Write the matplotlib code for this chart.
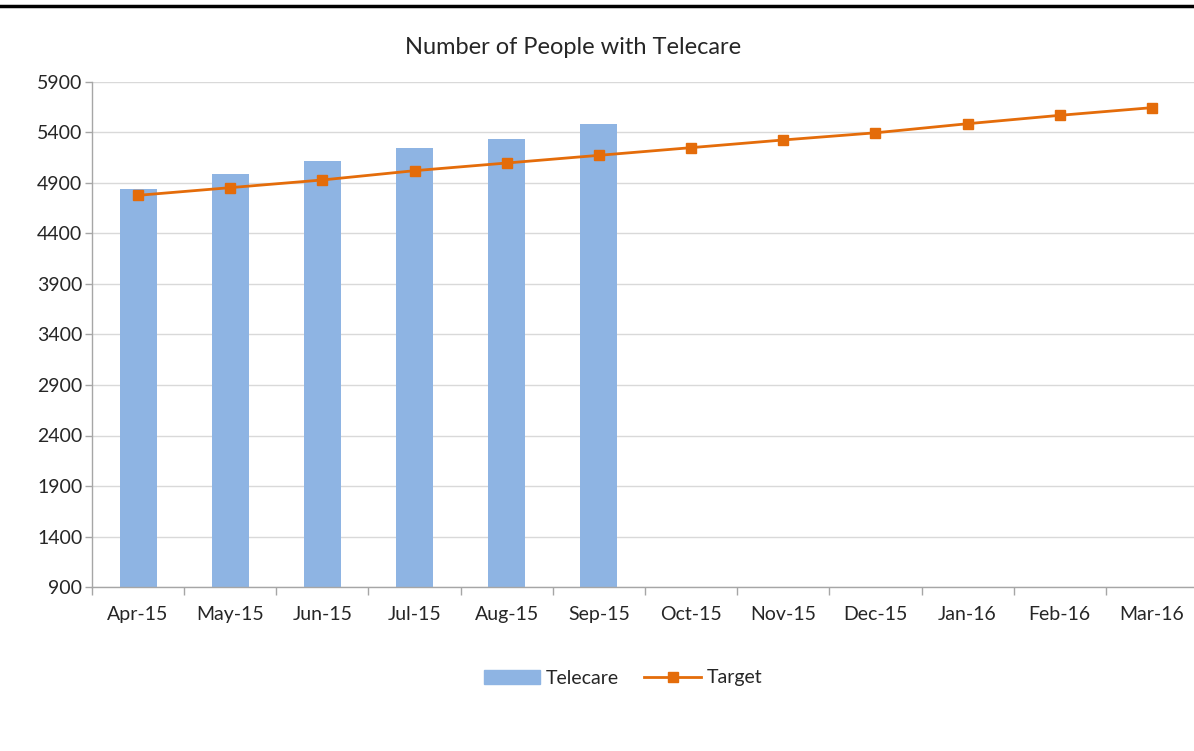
import matplotlib
matplotlib.use('Agg')
from matplotlib import pyplot as plt
from matplotlib.lines import Line2D
import numpy as np

# data
months = ['Apr-15', 'May-15', 'Jun-15', 'Jul-15', 'Aug-15', 'Sep-15',
          'Oct-15', 'Nov-15', 'Dec-15', 'Jan-16', 'Feb-16', 'Mar-16']
telecare = [4840, 4990, 5120, 5247, 5336, 5487]
target = [4778, 4854, 4930, 5022, 5098, 5174, 5250, 5326, 5397, 5487, 5570, 5646]
y_ticks = [900, 1400, 1900, 2400, 2900, 3400, 3900, 4400, 4900, 5400, 5900]

BAR = '#8EB4E3'
ORANGE = '#E46C0A'
GRID = '#D9D9D9'
AXIS = '#A6A6A6'
TEXT = '#262626'

plt.rcParams['font.family'] = ['Lato', 'DejaVu Sans']

fig = plt.figure(figsize=(11.94, 7.51), dpi=100)
ax = fig.add_axes([92 / 1194, 1 - 587 / 751, (1198 - 92) / 1194, (587 - 82) / 751])

x = np.arange(len(months))
ax.bar(x[:len(telecare)], telecare, width=0.4, color=BAR, zorder=2, label='Telecare')
ax.plot(x, target, color=ORANGE, lw=2, marker='s', markersize=7.5,
        markeredgecolor=ORANGE, zorder=3, label='Target')

ax.set_xlim(-0.5, len(months) - 0.5)
ax.set_ylim(900, 5900)
ax.set_yticks(y_ticks)
ax.yaxis.grid(True, color=GRID, lw=1, zorder=0)
ax.set_axisbelow(True)

# category boundaries as ticks, labels at centres
ax.set_xticks(np.arange(-0.5, len(months) + 0.5, 1))
ax.set_xticklabels([])
ax.set_xticks(x, minor=True)
ax.set_xticklabels(months, minor=True)
ax.tick_params(axis='x', which='major', length=6, color=AXIS, width=1)
ax.tick_params(axis='x', which='minor', length=0, pad=14, labelsize=14, labelcolor=TEXT)
ax.tick_params(axis='y', length=5, color=AXIS, width=1, pad=2, labelsize=14, labelcolor=TEXT)

for side in ['top', 'right']:
    ax.spines[side].set_visible(False)
for side in ['left', 'bottom']:
    ax.spines[side].set_color(AXIS)
    ax.spines[side].set_linewidth(1)

fig.text(573 / 1194, 1 - 47 / 751, 'Number of People with Telecare',
         ha='center', va='center', fontsize=17, color=TEXT)

handles = [plt.Rectangle((0, 0), 1, 1, color=BAR),
           Line2D([0], [0], color=ORANGE, lw=2, marker='s', markersize=7.5)]
fig.legend(handles, ['Telecare', 'Target'], loc='center', ncol=2,
           bbox_to_anchor=(623 / 1194, 1 - 678 / 751), frameon=False,
           fontsize=14, handlelength=2.9, handletextpad=0.3, columnspacing=1.3,
           labelcolor=TEXT)

# black rule along the top of the screenshot
fig.add_artist(Line2D([0, 1], [1 - 6 / 751, 1 - 6 / 751], color='black', lw=2.5,
                      transform=fig.transFigure))

fig.savefig('out.png', dpi=100)
